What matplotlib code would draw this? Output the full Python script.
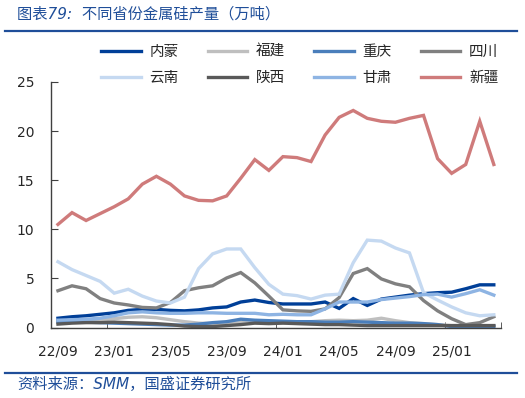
import matplotlib
matplotlib.use("Agg")
import matplotlib.pyplot as plt
from matplotlib.lines import Line2D

plt.rcParams['font.family'] = ['DejaVu Sans', 'Noto Sans CJK SC']

# monthly data 22/09 - 25/04
months = ['22/09', '22/10', '22/11', '22/12', '23/01', '23/02', '23/03', '23/04',
          '23/05', '23/06', '23/07', '23/08', '23/09', '23/10', '23/11', '23/12',
          '24/01', '24/02', '24/03', '24/04', '24/05', '24/06', '24/07', '24/08',
          '24/09', '24/10', '24/11', '24/12', '25/01', '25/02', '25/03', '25/04']

neimeng = [0.95, 1.1, 1.2, 1.35, 1.5, 1.75, 1.85, 1.85, 1.75, 1.7, 1.8, 2.0, 2.1, 2.6, 2.8, 2.55,
           2.4, 2.4, 2.4, 2.6, 1.95, 2.95, 2.25, 2.9, 3.1, 3.3, 3.45, 3.55, 3.6, 3.95, 4.35, 4.35]
fujian = [0.55, 0.6, 0.65, 0.75, 0.9, 1.05, 1.1, 1.0, 0.8, 0.6, 0.45, 0.4, 0.45, 0.5, 0.5, 0.5,
          0.5, 0.55, 0.6, 0.7, 0.75, 0.7, 0.75, 0.95, 0.7, 0.5, 0.4, 0.3, 0.2, 0.2, 0.2, 0.2]
chongqing = [0.6, 0.6, 0.55, 0.5, 0.45, 0.4, 0.35, 0.3, 0.25, 0.25, 0.35, 0.5, 0.6, 0.85, 0.75, 0.7,
             0.65, 0.6, 0.6, 0.55, 0.55, 0.6, 0.55, 0.5, 0.45, 0.45, 0.4, 0.3, 0.1, 0.1, 0.1, 0.1]
sichuan = [3.75, 4.25, 3.95, 2.95, 2.5, 2.3, 2.05, 2.0, 2.55, 3.75, 4.05, 4.25, 5.05, 5.6, 4.55, 3.2,
           1.8, 1.7, 1.65, 1.9, 3.05, 5.5, 6.0, 4.95, 4.45, 4.15, 2.75, 1.7, 0.9, 0.3, 0.5, 1.1]
yunnan = [6.7, 5.9, 5.3, 4.7, 3.5, 3.9, 3.2, 2.7, 2.5, 3.1, 6.0, 7.5, 8.0, 8.0, 6.1, 4.4,
          3.4, 3.25, 2.9, 3.3, 3.4, 6.6, 8.9, 8.8, 8.1, 7.6, 3.55, 2.8, 2.1, 1.5, 1.2, 1.3]
shaanxi = [0.35, 0.45, 0.5, 0.5, 0.55, 0.5, 0.45, 0.4, 0.3, 0.15, 0.1, 0.1, 0.2, 0.3, 0.45, 0.4,
           0.45, 0.4, 0.35, 0.3, 0.3, 0.25, 0.2, 0.2, 0.2, 0.2, 0.2, 0.2, 0.2, 0.2, 0.2, 0.2]
gansu = [0.75, 0.8, 0.85, 0.95, 1.2, 1.5, 1.6, 1.5, 1.45, 1.45, 1.5, 1.5, 1.45, 1.45, 1.45, 1.3,
         1.35, 1.3, 1.3, 1.9, 2.6, 2.6, 2.6, 2.85, 3.0, 3.15, 3.35, 3.4, 3.1, 3.45, 3.85, 3.3]
xinjiang = [10.5, 11.7, 10.9, 11.6, 12.3, 13.1, 14.6, 15.4, 14.6, 13.4, 12.95, 12.9, 13.4, 15.2, 17.1, 16.0,
            17.4, 17.3, 16.9, 19.6, 21.4, 22.1, 21.3, 21.0, 20.9, 21.3, 21.6, 17.2, 15.7, 16.6, 21.0, 16.6]

series = [('内蒙', neimeng, '#003f98'),
          ('福建', fujian, '#bfbfbf'),
          ('重庆', chongqing, '#4a7ebb'),
          ('四川', sichuan, '#808080'),
          ('云南', yunnan, '#c5d9f1'),
          ('陕西', shaanxi, '#595959'),
          ('甘肃', gansu, '#8eb4e3'),
          ('新疆', xinjiang, '#cf7b7b')]

blue = '#1f4e99'
text_col = '#262626'

fig = plt.figure(figsize=(5.25, 3.98), dpi=100)
ax = fig.add_axes([0.097, 0.177, 0.857, 0.617])

x = list(range(len(months)))
lines = []
for name, vals, col in series:
    ln, = ax.plot(x, vals, color=col, lw=2.4, label=name, solid_joinstyle='miter')
    lines.append(ln)

ax.set_xlim(-0.5, len(months) - 0.5)
ax.set_ylim(0, 25)
ax.set_yticks([0, 5, 10, 15, 20, 25])

ax.set_xticks(x[::4])
ax.set_xticklabels(months[::4])
ax.set_xticks([3.5, 15.5, 27.5, len(months) - 0.5], minor=True)
ax.tick_params(axis='x', which='major', length=0, pad=12, labelsize=10, labelcolor=text_col)
ax.tick_params(axis='x', which='minor', direction='in', length=4, color='#404040')
ax.tick_params(axis='y', direction='in', length=5, pad=12, labelsize=10,
               labelcolor=text_col, color='#404040')

for s in ['top', 'right']:
    ax.spines[s].set_visible(False)
for s in ['left', 'bottom']:
    ax.spines[s].set_color('#404040')
    ax.spines[s].set_linewidth(1.0)

# legend fills column by column, so reorder to read row by row
order = [0, 4, 1, 5, 2, 6, 3, 7]
fig.legend([lines[i] for i in order], [series[i][0] for i in order],
           loc='upper left', bbox_to_anchor=(0.193, 0.89), ncol=4, frameon=False,
           fontsize=10.5, handlelength=2.7, handletextpad=0.6, columnspacing=2.0,
           labelspacing=0.75, borderpad=0, borderaxespad=0, labelcolor=text_col)

fig.text(0.032, 0.965, '图表79:  不同省份金属硅产量（万吨）', color=blue, fontsize=11,
         style='italic', va='center', ha='left')
fig.add_artist(Line2D([0.01, 0.985], [0.922, 0.922], color=blue, lw=1.6))
fig.add_artist(Line2D([0.01, 0.985], [0.064, 0.064], color=blue, lw=1.6))
fig.text(0.032, 0.033, '资料来源：SMM，国盛证券研究所', color=blue, fontsize=11,
         style='italic', va='center', ha='left')

fig.savefig('out.png', dpi=100)
